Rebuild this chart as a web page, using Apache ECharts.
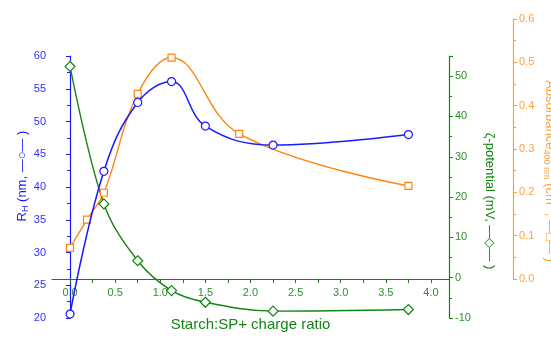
<!DOCTYPE html>
<html>
<head>
<meta charset="utf-8">
<script src="https://cdn.jsdelivr.net/npm/echarts@6/dist/echarts.min.js"></script>
<style>html,body{margin:0;padding:0;background:#fff;}#c{width:551px;height:337px;}</style>
</head>
<body>
<div id="c"></div>
<script>
// Data
var xRatio = [0, 0.375, 0.75, 1.125, 1.5, 2.25, 3.75];
var rH = [20.6, 42.4, 52.9, 56.1, 49.3, 46.4, 48.0];
var zeta = [52.4, 18.3, 4.2, -3.2, -6.1, -8.3, -7.9];
var xAbs = [0, 0.1875, 0.375, 0.75, 1.125, 1.875, 3.75];
var absorb = [0.072, 0.137, 0.199, 0.427, 0.511, 0.335, 0.215];
var xTickLabels = [0, 0.5, 1.0, 1.5, 2.0, 2.5, 3.0, 3.5, 4.0];
var xTickMarks = [0, 0.25, 0.5, 0.75, 1.0, 1.25, 1.5, 1.75, 2.0, 2.25, 2.5, 2.75, 3.0, 3.25, 3.5, 3.75, 4.0];

function pairs(xs, ys) { return xs.map(function (x, i) { return [x, ys[i]]; }); }

var BLUE = '#1a1aff', BLUE_T = '#3030ff';
var GREEN = '#138513', GREEN_T = '#2f8f2f';
var ORANGE = '#ff8410', ORANGE_T = '#ffa040';
var FONT = 'Liberation Sans, Arial, sans-serif';

var chart = echarts.init(document.getElementById('c'), null, {renderer: 'canvas'});
chart.setOption({
  animation: false,
  backgroundColor: '#fff',
  grid: [
    {left: 52, right: 102, top: 56, height: 262, outerBoundsMode: 'none', containLabel: false},
    {left: 52, right: 102, top: 19, height: 260, outerBoundsMode: 'none', containLabel: false}
  ],
  xAxis: [
    {
      type: 'value', gridIndex: 0, min: -0.2, max: 4.2, position: 'bottom', offset: -39,
      axisLine: {show: true, onZero: false, lineStyle: {color: GREEN, width: 1.2}},
      axisTick: {show: true, inside: false, length: 4, customValues: xTickMarks, lineStyle: {color: GREEN}},
      axisLabel: {color: GREEN_T, fontSize: 11, fontFamily: FONT, margin: 8, customValues: xTickLabels,
        formatter: function (v) { return v.toFixed(1); }},
      splitLine: {show: false},
      name: 'Starch:SP+ charge ratio', nameLocation: 'middle', nameGap: 38,
      nameTextStyle: {color: GREEN, fontSize: 15, fontFamily: FONT}
    },
    {type: 'value', gridIndex: 1, min: -0.2, max: 4.2, show: false}
  ],
  yAxis: [
    {
      type: 'value', gridIndex: 0, position: 'left', min: 20, max: 60, interval: 5,
      axisLine: {show: true, lineStyle: {color: BLUE, width: 1.2}},
      axisTick: {show: true, length: 4, lineStyle: {color: BLUE}},
      minorTick: {show: true, splitNumber: 2, length: 3, lineStyle: {color: BLUE}},
      axisLabel: {color: BLUE_T, fontSize: 11, fontFamily: FONT, margin: 6},
      splitLine: {show: false}, minorSplitLine: {show: false}
    },
    {
      type: 'value', gridIndex: 0, position: 'right', min: -10, max: 55, interval: 10,
      axisLine: {show: true, onZero: false, lineStyle: {color: GREEN, width: 1.2}},
      axisTick: {show: true, length: 4, lineStyle: {color: GREEN}},
      minorTick: {show: true, splitNumber: 2, length: 3, lineStyle: {color: GREEN}},
      axisLabel: {color: GREEN_T, fontSize: 11, fontFamily: FONT, margin: 6, showMaxLabel: false},
      splitLine: {show: false}, minorSplitLine: {show: false}
    },
    {
      type: 'value', gridIndex: 1, position: 'right', offset: 64, min: 0, max: 0.6, interval: 0.1,
      axisLine: {show: true, onZero: false, lineStyle: {color: ORANGE_T, width: 1.2}},
      axisTick: {show: true, length: 4, lineStyle: {color: ORANGE_T}},
      minorTick: {show: true, splitNumber: 2, length: 3, lineStyle: {color: ORANGE_T}},
      axisLabel: {color: ORANGE_T, fontSize: 11, fontFamily: FONT, margin: 6,
        formatter: function (v) { return v.toFixed(1); }},
      splitLine: {show: false}, minorSplitLine: {show: false}
    }
  ],
  graphic: [
    {type: 'text', x: 22, y: 176, rotation: Math.PI / 2,
     style: {text: 'R{sub|H} (nm, —○— )', fill: BLUE, font: '13px ' + FONT, align: 'center', verticalAlign: 'middle',
       rich: {sub: {fontSize: 9, fill: BLUE, fontFamily: FONT, padding: [8, 0, 0, 0]}}}},
    {type: 'text', x: 490, y: 201, rotation: -Math.PI / 2,
     style: {text: 'ζ-potential (mV, —◇— )', fill: GREEN, font: '13px ' + FONT, align: 'center', verticalAlign: 'middle'}},
    {type: 'text', x: 550, y: 171, rotation: -Math.PI / 2,
     style: {text: 'Absorbance{sub|400 nm} (cm{sup|-1}, —□— )', fill: ORANGE_T, font: '13px ' + FONT, align: 'center', verticalAlign: 'middle',
       rich: {sub: {fontSize: 9, fill: ORANGE_T, fontFamily: FONT, padding: [8, 0, 0, 0]},
              sup: {fontSize: 9, fill: ORANGE_T, fontFamily: FONT, padding: [0, 0, 8, 0]}}}}
  ],
  series: [
    {
      type: 'line', name: 'Absorbance', xAxisIndex: 1, yAxisIndex: 2, data: pairs(xAbs, absorb),
      smooth: 0.4, symbol: 'rect', symbolSize: 7, showAllSymbol: true,
      lineStyle: {color: ORANGE, width: 1.4},
      itemStyle: {color: '#fff', borderColor: ORANGE, borderWidth: 1.2}, z: 2
    },
    {
      type: 'line', name: 'RH', xAxisIndex: 0, yAxisIndex: 0, data: pairs(xRatio, rH),
      smooth: 0.4, symbol: 'circle', symbolSize: 8,
      lineStyle: {color: BLUE, width: 1.5},
      itemStyle: {color: '#fff', borderColor: BLUE, borderWidth: 1.2}, z: 3
    },
    {
      type: 'line', name: 'zeta', xAxisIndex: 0, yAxisIndex: 1, data: pairs(xRatio, zeta),
      smooth: 0.35, symbol: 'diamond', symbolSize: 10,
      lineStyle: {color: GREEN, width: 1.4},
      itemStyle: {color: '#fff', borderColor: GREEN, borderWidth: 1.2}, z: 2
    }
  ]
});
</script>
</body>
</html>
